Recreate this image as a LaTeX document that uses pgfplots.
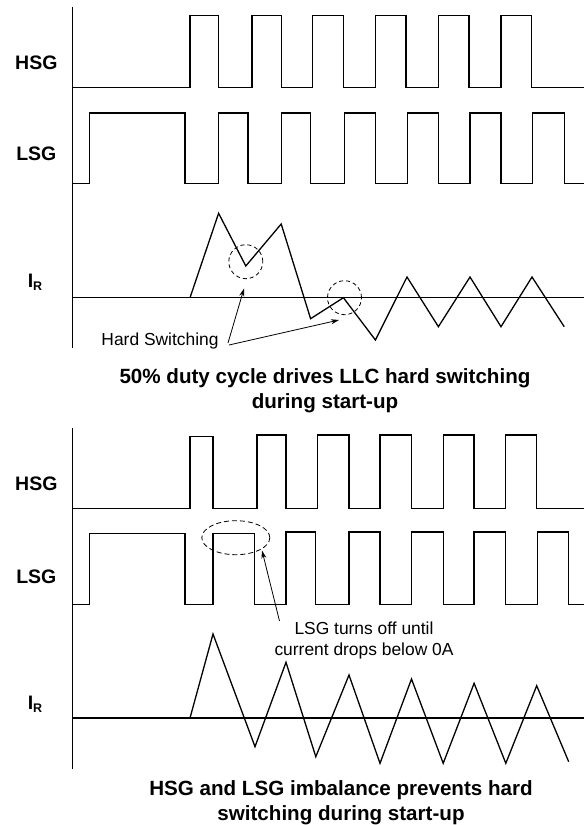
\documentclass[border=0pt]{standalone}
\usepackage{pgfplots}
\pgfplotsset{compat=1.18}
\usepackage{fontspec}
\setmainfont{Liberation Sans}
\usetikzlibrary{arrows.meta}
\newcommand\lab{\fontsize{19.5bp}{22bp}\selectfont\bfseries}
\newcommand\capt{\fontsize{20.6bp}{25bp}\selectfont\bfseries}
\newcommand\ann{\fontsize{17.4bp}{21bp}\selectfont}
\newcommand\IR{{\lab I\raisebox{-3.6bp}{\fontsize{12.5bp}{13bp}\selectfont R}}}
\begin{document}
\begin{tikzpicture}
\begin{axis}[
  width=584bp, height=825bp, scale only axis,
  xmin=0, xmax=584, ymin=0, ymax=825, y dir=reverse,
  hide axis, clip=false,
  w/.style={black, solid, line width=1.3bp, mark=none, line join=miter},
]
% ---------- top panel ----------
\addplot[w] coordinates {(72.3,7)(72.3,348)};
% HSG
\addplot[w] coordinates {(72.3,87.7)(190,87.7)(190,15.7)(218.6,15.7)(218.6,87.7)(252.1,87.7)(252.1,15.7)(281.2,15.7)(281.2,87.7)(312.8,87.7)(312.8,15.7)(343.4,15.7)(343.4,87.7)(375.4,87.7)(375.4,15.7)(406,15.7)(406,87.7)(438.4,87.7)(438.4,15.7)(468.9,15.7)(468.9,87.7)(501,87.7)(501,15.7)(531.5,15.7)(531.5,87.7)(584,87.7)};
% LSG
\addplot[w] coordinates {(72.3,183.7)(89.4,183.7)(89.4,113)(185.1,113)(185.1,183.7)(218.6,183.7)(218.6,113)(248,113)(248,183.7)(281.6,183.7)(281.6,113)(310.6,113)(310.6,183.7)(344.5,183.7)(344.5,113)(375.4,113)(375.4,183.7)(407.4,183.7)(407.4,113)(438.4,113)(438.4,183.7)(470,183.7)(470,113)(501,113)(501,183.7)(532.6,183.7)(532.6,113)(564.2,113)(564.2,183.7)(584,183.7)};
% IR
\addplot[w] coordinates {(72.3,297.7)(584,297.7)};
\addplot[w] coordinates {(190,297.7)(218.6,213.3)(245.8,266)(281.2,224)(310.6,318.7)(343.4,297.7)(375.4,340)(407,277)(438.4,326.7)(470,277)(501,326.7)(532,277)(564.2,326.7)};
% ---------- bottom panel ----------
\addplot[w] coordinates {(72.3,428)(72.3,769)};
\addplot[w] coordinates {(72.3,508.3)(190,508.3)(190,436.7)(213,436.7)(213,508.3)(257,508.3)(257,435)(286,435)(286,508.3)(317.7,508.3)(317.7,435)(349,435)(349,508.3)(380,508.3)(380,435)(411.5,435)(411.5,508.3)(443.2,508.3)(443.2,435)(474.1,435)(474.1,508.3)(505.8,508.3)(505.8,435)(536.7,435)(536.7,508.3)(584,508.3)};
\addplot[w] coordinates {(72.3,604.3)(89.4,604.3)(89.4,533.3)(185.1,533.3)(185.1,604.3)(213,604.3)(213,533.3)(254.7,533.3)(254.7,604.3)(286,604.3)(286,532)(315.8,532)(315.8,604.3)(349,604.3)(349,532)(380,532)(380,604.3)(411.5,604.3)(411.5,532)(443.2,532)(443.2,604.3)(474.1,604.3)(474.1,532)(505.8,532)(505.8,604.3)(537.4,604.3)(537.4,532)(568.7,532)(568.7,604.3)(584,604.3)};
\addplot[w] coordinates {(72.3,718)(584,718)};
\addplot[w] coordinates {(190,718)(213,634)(255,746.7)(286,662.3)(315.8,756.7)(349,675)(380,763.3)(411.5,679)(443.2,763.3)(474.1,683.3)(505.8,763.3)(536.7,685.7)(568.7,761.7)};

% labels
\node[anchor=base, inner sep=0] at (axis cs:36.3,69.3) {\lab HSG};
\node[anchor=base, inner sep=0] at (axis cs:36.3,160.7) {\lab LSG};
\node[anchor=base, inner sep=0] at (axis cs:35,287.3) {\IR};
\node[anchor=base, inner sep=0] at (axis cs:36.3,490.8) {\lab HSG};
\node[anchor=base, inner sep=0] at (axis cs:36.3,583.3) {\lab LSG};
\node[anchor=base, inner sep=0] at (axis cs:35,709) {\IR};

% annotations top
\draw[black, line width=0.8bp, dash pattern=on 4bp off 3bp] (axis cs:245.8,261.7) circle[radius=17bp];
\draw[black, line width=0.8bp, dash pattern=on 4bp off 3bp] (axis cs:344.5,297.7) circle[radius=17bp];
\node[anchor=base, inner sep=0] at (axis cs:160,345.5) {\ann Hard Switching};
\draw[black, line width=0.8bp, -{Stealth[length=8bp,width=5bp]}] (axis cs:228,343) -- (axis cs:244,288.5);
\draw[black, line width=0.8bp, -{Stealth[length=8bp,width=5bp]}] (axis cs:229,345) -- (axis cs:339,320);
\node[anchor=base, inner sep=0] at (axis cs:325,383.5) {\capt 50\% duty cycle drives LLC hard switching};
\node[anchor=base, inner sep=0] at (axis cs:325,408.5) {\capt during start-up};

% annotations bottom
\draw[black, line width=0.8bp, dash pattern=on 5bp off 3bp] (axis cs:235.8,537.7) ellipse[x radius=34bp, y radius=17bp];
\draw[black, line width=0.8bp, -{Stealth[length=8bp,width=5bp]}] (axis cs:279.5,621) -- (axis cs:262,550.5);
\node[anchor=base, inner sep=0] at (axis cs:364,634) {\ann LSG turns off until};
\node[anchor=base, inner sep=0] at (axis cs:364,655) {\ann current drops below 0A};
\node[anchor=base, inner sep=0] at (axis cs:341,795) {\capt HSG and LSG imbalance prevents hard};
\node[anchor=base, inner sep=0] at (axis cs:341,820) {\capt switching during start-up};
\end{axis}
\pgfresetboundingbox
\useasboundingbox (current axis.south west) rectangle (current axis.north east);
\end{tikzpicture}
\end{document}
